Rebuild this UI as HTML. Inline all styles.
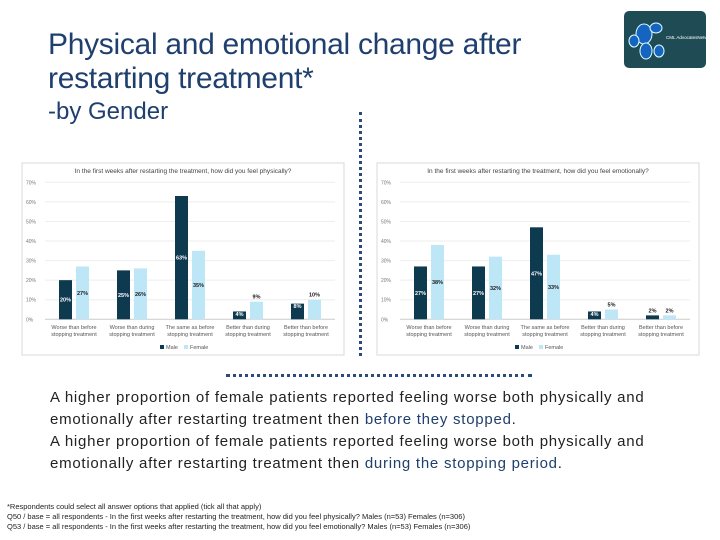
<!DOCTYPE html>
<html><head><meta charset="utf-8"><style>
body{margin:0;width:720px;height:540px;background:#fff;position:relative;overflow:hidden;font-family:"Liberation Sans",sans-serif}
.t{position:absolute;left:48px;color:#1f3f6e;white-space:nowrap}
</style></head><body>
<div class="t" style="top:28px;font-size:30px;line-height:34px;letter-spacing:-0.3px">Physical and emotional change after<br>restarting treatment*</div>
<div class="t" style="top:98px;font-size:24px;color:#1f3f6e">-by Gender</div>
<div style="position:absolute;left:624px;top:11px;width:82px;height:57px;background:#1f4b55;border-radius:5px;overflow:hidden">
<svg width="82" height="57"><g fill="#1565c0" stroke="#dff" stroke-width="1"><ellipse cx="20" cy="23" rx="8" ry="10"/><ellipse cx="32" cy="17" rx="6" ry="5"/><ellipse cx="10" cy="30" rx="5" ry="6"/><ellipse cx="22" cy="40" rx="6" ry="8"/><ellipse cx="35" cy="40" rx="5" ry="6"/></g><text x="42" y="28" font-size="4.5" fill="#fff" font-family="Liberation Sans">CML AdvocatesNetwork</text></svg></div>
<div style="position:absolute;left:359px;top:112px;height:244px;border-left:3px dotted #2a4b7c"></div>
<div style="position:absolute;left:226px;top:374px;width:306px;border-top:3px dotted #2a4b7c"></div>
<svg id="c" width="720" height="540" style="position:absolute;left:0;top:0" font-family="Liberation Sans, sans-serif"></svg>
<div style="position:absolute;left:50px;top:387px;width:620px;font-size:15px;line-height:22px;letter-spacing:0.75px;color:#222;font-family:'Liberation Sans',sans-serif">A higher proportion of female patients reported feeling worse both physically and emotionally after restarting treatment then <span style="color:#1f3f6e">before they stopped</span>.<br>A higher proportion of female patients reported feeling worse both physically and emotionally after restarting treatment then <span style="color:#1f3f6e">during the stopping period</span>.</div>
<div style="position:absolute;left:7px;top:502px;font-size:7.5px;line-height:10px;color:#222">*Respondents could select all answer options that applied (tick all that apply)<br>Q50 / base = all respondents - In the first weeks after restarting the treatment, how did you feel physically? Males (n=53) Females (n=306)<br>Q53 / base = all respondents - In the first weeks after restarting the treatment, how did you feel emotionally? Males (n=53) Females (n=306)</div>
<script>
const categories=["Worse than before|stopping treatment","Worse than during|stopping treatment","The same as before|stopping treatment","Better than during|stopping treatment","Better than before|stopping treatment"];
const physMale=[20,25,63,4,8];
const physFemale=[27,26,35,9,10];
const emoMale=[27,27,47,4,2];
const emoFemale=[38,32,33,5,2];
const ticks=[0,10,20,30,40,50,60,70];
const svg=document.getElementById('c');const NS="http://www.w3.org/2000/svg";
function mk(t,a,p){const e=document.createElementNS(NS,t);for(const k in a)e.setAttribute(k,a[k]);(p||svg).appendChild(e);return e;}
function chart(bx,plotL,plotR,title,male,female,name){
 const g=mk('g',{});
 
 
 const box=mk('rect',{x:bx,y:163,width:322,height:192,fill:'#fff',stroke:'#d8d8d8'},g);
 
 
 const tt=mk('text',{x:bx+161,y:173,'font-size':6.5,'text-anchor':'middle',fill:'#444'},g);tt.textContent=title;
 
 
 const y0=319.3,yt=182.3;const Y=v=>y0-(y0-yt)*v/70;
 ticks.forEach(t=>{mk('line',{x1:plotL,x2:plotR,y1:Y(t),y2:Y(t),stroke:t?'#eee':'#ccc'},g);
  const l=mk('text',{x:bx+4,y:Y(t)+2,'font-size':5,fill:'#777'},g);l.textContent=t+'%';
  
  });
 const step=(plotR-plotL)/categories.length;
 categories.forEach((c,i)=>{const cx=plotL+step*(i+0.5);
  [[male[i],'#0e3a4f','#fff',-15],[female[i],'#bde6f7','#1a1a1a',2]].forEach(([v,col,tc,off],j)=>{
   const r=mk('rect',{x:cx+off,y:Y(v),width:13,height:y0-Y(v),fill:col},g);
   
   
   const lab=mk('text',{x:cx+off+6.5,y:(Y(v)+y0)/2+2,'font-size':5.5,'font-weight':'bold','text-anchor':'middle',fill:tc},g);lab.textContent=v+'%';
   if(v<12){lab.setAttribute('y',Y(v)+(j?-3:4.5));if(!j&&v<4){lab.setAttribute('y',Y(v)-3);lab.setAttribute('fill','#1a1a1a');}}
   
   
  });
  c.split('|').forEach((s,k)=>{const t=mk('text',{x:cx,y:329+k*7,'font-size':5.5,'text-anchor':'middle',fill:'#555'},g);t.textContent=s;
   
   });
 });
 const lx=bx+138;
 mk('rect',{x:lx,y:345,width:4,height:4,fill:'#0e3a4f'},g);
 const l1=mk('text',{x:lx+6,y:349,'font-size':5.5,fill:'#555'},g);l1.textContent='Male';
 
 
 mk('rect',{x:lx+24,y:345,width:4,height:4,fill:'#bde6f7'},g);
 const l2=mk('text',{x:lx+30,y:349,'font-size':5.5,fill:'#555'},g);l2.textContent='Female';
 
 
}
chart(22,45,335,'In the first weeks after restarting the treatment, how did you feel physically?',physMale,physFemale,'physical-chart');
chart(377,400,690,'In the first weeks after restarting the treatment, how did you feel emotionally?',emoMale,emoFemale,'emotional-chart');
</script>
</body></html>
